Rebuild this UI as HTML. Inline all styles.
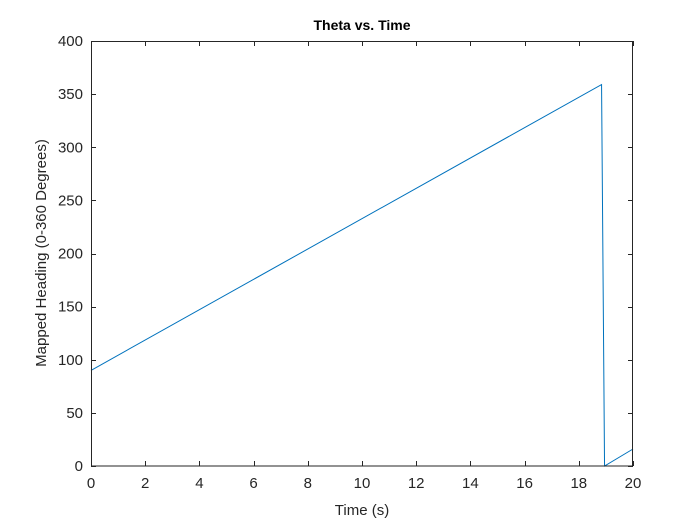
<!DOCTYPE html>
<html><head><meta charset="utf-8"><style>
body{margin:0;background:#fff;}
svg{display:block;font-family:"Liberation Sans",Arial,sans-serif;}
</style></head><body>
<svg id="chart" width="700" height="525">
<rect x="0" y="0" width="700" height="525" fill="#fff"/>
<rect x="91" y="41" width="542" height="425" fill="#fff" stroke="none"/>
<g id="grid"></g>
<path id="series" fill="none" stroke="#0072BD" stroke-width="1"/>
<rect x="91.5" y="41.5" width="541" height="424.5" fill="none" stroke="#262626" stroke-width="1"/>
<text x="362" y="30" text-anchor="middle" font-size="14" font-weight="bold" fill="#000">Theta vs. Time</text>
<text x="362" y="515" text-anchor="middle" font-size="15" fill="#262626">Time (s)</text>
<text transform="translate(46,253) rotate(-90)" text-anchor="middle" font-size="15" fill="#262626">Mapped Heading (0-360 Degrees)</text>
</svg>
<script>
const times=[0,18.84,18.95,20];
const thetas=[90,359,0,16];
const xTicks=[0,2,4,6,8,10,12,14,16,18,20];
const yTicks=[0,50,100,150,200,250,300,350,400];
const X0=91,X1=633,Y0=466,Y1=41;
function sx(v){return X0+(v-0)/(20-0)*(X1-X0);}
function sy(v){return Y0-(v-0)/(400-0)*(Y0-Y1);}
const ns="http://www.w3.org/2000/svg";
const g=document.getElementById('grid');
function mk(t,a){const e=document.createElementNS(ns,t);for(const k in a)e.setAttribute(k,a[k]);return e;}
xTicks.forEach(v=>{
 const x=Math.round(sx(v))+0.5;
 const t1=mk('line',{x1:x,x2:x,y1:466,y2:461,stroke:'#262626'});
 
 
 g.appendChild(t1);
 const t2=mk('line',{x1:x,x2:x,y1:41,y2:46,stroke:'#262626'});
 
 
 g.appendChild(t2);
 const l=mk('text',{x:sx(v),y:488,'text-anchor':'middle','font-size':15,fill:'#262626'});
 l.textContent=v;
 
 
 g.appendChild(l);
});
yTicks.forEach(v=>{
 const y=Math.round(sy(v))+0.5;
 const t1=mk('line',{x1:91,x2:96,y1:y,y2:y,stroke:'#262626'});
 
 
 g.appendChild(t1);
 const t2=mk('line',{x1:628,x2:633,y1:y,y2:y,stroke:'#262626'});
 
 
 g.appendChild(t2);
 const l=mk('text',{x:83,y:sy(v)+5,'text-anchor':'end','font-size':15,fill:'#262626'});
 l.textContent=v;
 
 
 g.appendChild(l);
});
document.getElementById('series').setAttribute('d',times.map((t,i)=>(i?'L':'M')+sx(t).toFixed(2)+','+sy(thetas[i]).toFixed(2)).join(' '));
</script>
</body></html>
